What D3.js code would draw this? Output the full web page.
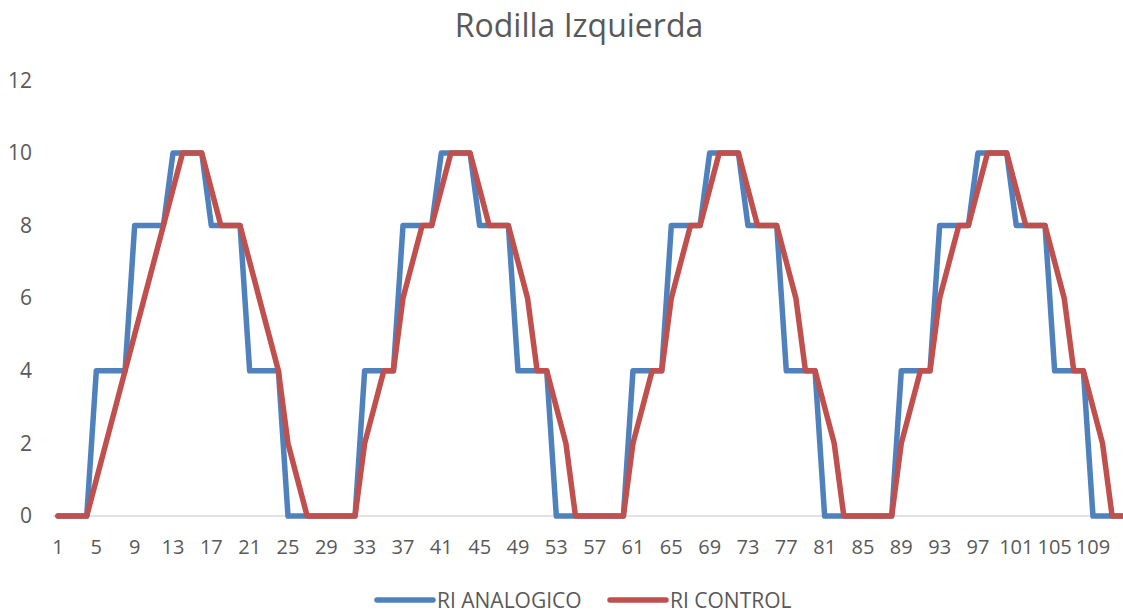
<!DOCTYPE html>
<meta charset="utf-8">
<head>
<style>
html, body{margin:0px; padding:0px; background:white;}
text {font-family: "Open Sans", sans-serif; fill: #595959;}
</style>
</head>
<script src="https://d3js.org/d3.v7.min.js"></script>

<div id="my_dataviz"></div>

<script>

// categories 1..112 (sample number)
var categories = d3.range(1, 113)

// RI ANALOGICO
var analogico = [
  0,0,0,0, 4,4,4,4, 8,8,8,8, 10,10,10,10, 8,8,8,8, 4,4,4,4, 0,0,0,0,0,0,0,0,
  4,4,4,4, 8,8,8,8, 10,10,10,10, 8,8,8,8, 4,4,4,4, 0,0,0,0,0,0,0,0,
  4,4,4,4, 8,8,8,8, 10,10,10,10, 8,8,8,8, 4,4,4,4, 0,0,0,0,0,0,0,0,
  4,4,4,4, 8,8,8,8, 10,10,10,10, 8,8,8,8, 4,4,4,4, 0,0,0,0
]

// RI CONTROL
var control = [
  0,0,0,0, 1,2,3,4,5,6,7,8,9,10, 10,10, 9, 8,8,8, 7,6,5,4, 2,1, 0,0,0,0,0,0,
  2,3,4,4,6,7,8,8,9,10,10,10,9,8,8,8,7,6,4,4,3,2,0, 0,0,0,0,0,
  2,3,4,4,6,7,8,8,9,10,10,10,9,8,8,8,7,6,4,4,3,2,0, 0,0,0,0,0,
  2,3,4,4,6,7,8,8,9,10,10,10,9,8,8,8,7,6,4,4,3,2,0, 0
]

var yTicks = [0, 2, 4, 6, 8, 10, 12]
var xTicks = categories.filter(function(d){ return (d - 1) % 4 == 0 })

var series = [
  {name: "RI ANALOGICO", values: analogico, color: "#4F81BD"},
  {name: "RI CONTROL", values: control, color: "#C0504D"}
]

var width = 1123,
    height = 614

var svg = d3.select("#my_dataviz")
  .append("svg")
    .attr("width", width)
    .attr("height", height)

// scales
var x = d3.scaleBand()
  .domain(categories)
  .range([53.2, 53.2 + 112 * 9.583])

var y = d3.scaleLinear()
  .domain([0, 12])
  .range([516, 80.4])

// y axis labels, no line
var yAxis = svg.append("g")
  .attr("transform", "translate(32,0)")
  .call(d3.axisLeft(y).tickValues(yTicks).tickSize(0).tickPadding(0))
yAxis.select(".domain").remove()
yAxis.selectAll("text")
  .style("font-size", "21px")
  .style("font-family", "Open Sans")
  .attr("fill", "#595959")

// x axis: baseline + labels every 4 categories
svg.append("line")
  .attr("x1", x.range()[0])
  .attr("x2", x.range()[1])
  .attr("y1", y(0))
  .attr("y2", y(0))
  .style("stroke", "#d9d9d9")
  .style("stroke-width", 1.3)

var xAxis = svg.append("g")
  .attr("transform", "translate(0," + y(0) + ")")
  .call(d3.axisBottom(x).tickValues(xTicks).tickSize(0).tickPadding(24))
xAxis.select(".domain").remove()
xAxis.selectAll("text")
  .style("font-size", "20px")
  .style("font-family", "Open Sans")
  .attr("fill", "#595959")

// lines
var line = d3.line()
  .x(function(d, i) { return x(categories[i]) + x.bandwidth() / 2 })
  .y(function(d) { return y(d) })

svg.selectAll(".serie")
  .data(series)
  .enter()
  .append("path")
    .attr("class", "serie")
    .attr("d", function(d) { return line(d.values) })
    .style("fill", "none")
    .style("stroke", function(d) { return d.color })
    .style("stroke-width", 5.5)
    .style("stroke-linejoin", "round")
    .style("stroke-linecap", "round")

// title
svg.append("text")
  .attr("x", 579)
  .attr("y", 37)
  .attr("text-anchor", "middle")
  .style("font-size", "32px")
  .text("Rodilla Izquierda")

// legend
var legendX = [377, 610]
var legend = svg.selectAll(".legend")
  .data(series)
  .enter()
  .append("g")
    .attr("class", "legend")
    .attr("transform", function(d, i) { return "translate(" + legendX[i] + ",600)" })

legend.append("line")
  .attr("x1", 0)
  .attr("x2", 56)
  .style("stroke", function(d) { return d.color })
  .style("stroke-width", 5.5)
  .style("stroke-linecap", "round")

legend.append("text")
  .attr("x", 60)
  .attr("y", 8)
  .style("font-size", "21px")
  .text(function(d) { return d.name })

</script>
</html>
